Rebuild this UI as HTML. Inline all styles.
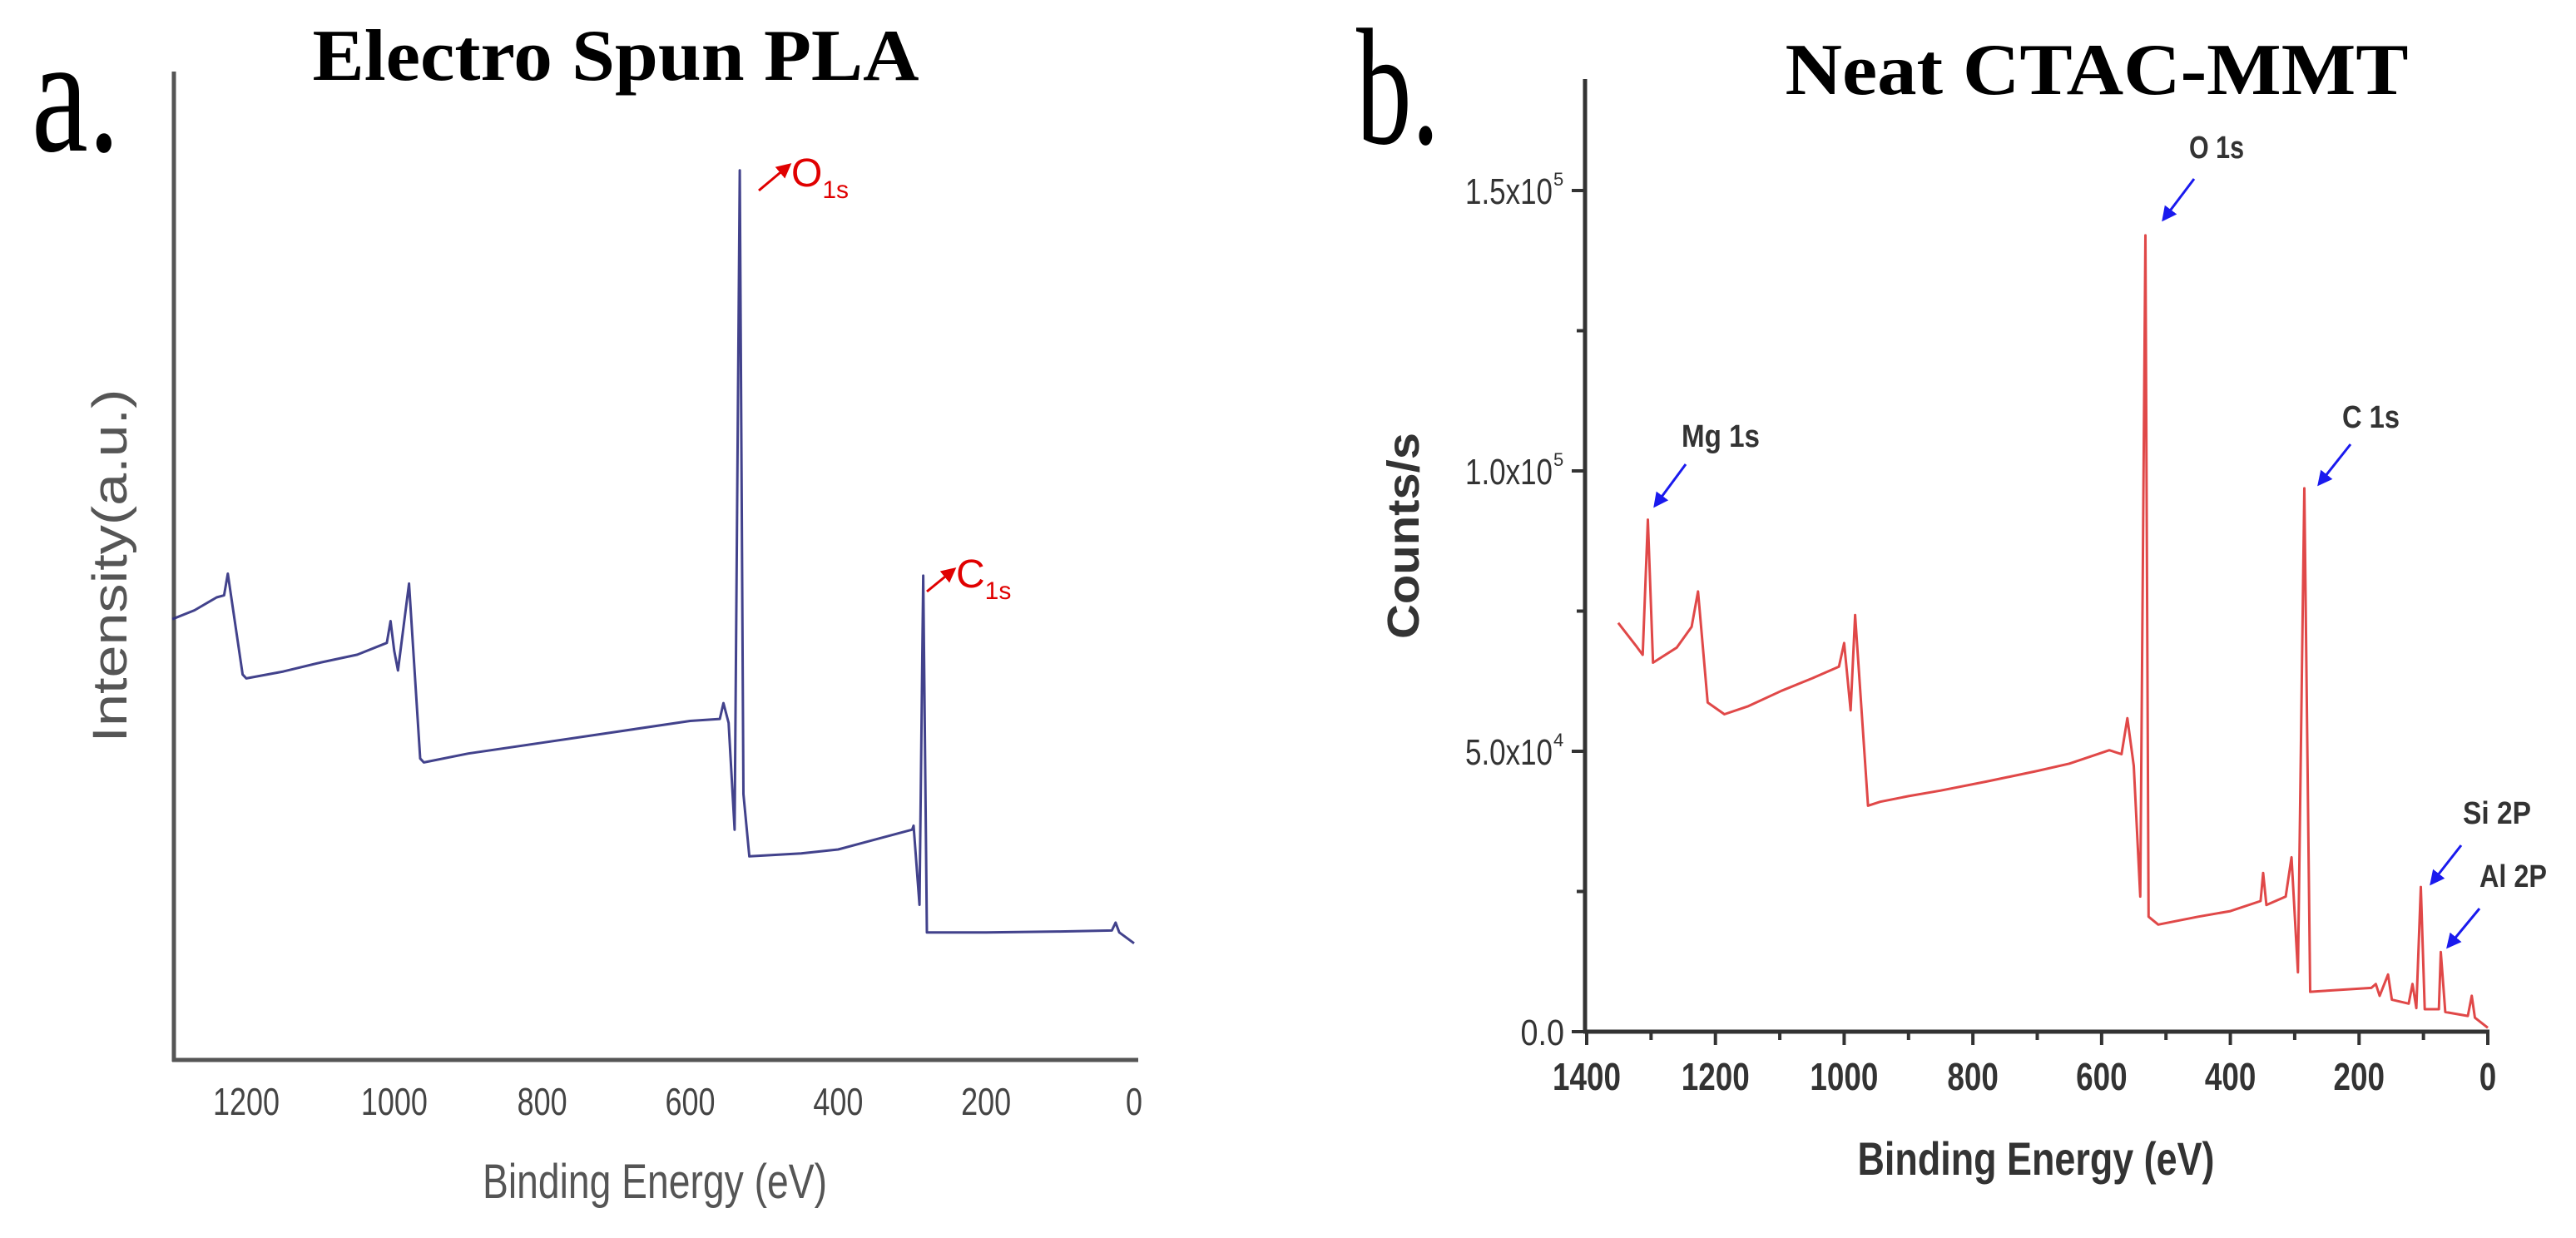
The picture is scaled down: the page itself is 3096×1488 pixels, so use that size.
<!DOCTYPE html>
<html><head><meta charset="utf-8"><style>
html,body{margin:0;padding:0;background:#fff;}
svg{display:block;}
</style></head><body>
<svg id="fig" width="3096" height="1488" viewBox="0 0 3096 1488" xmlns="http://www.w3.org/2000/svg">
<defs>
<marker id="arrR" markerWidth="6" markerHeight="6" refX="5" refY="3" orient="auto" markerUnits="strokeWidth"><path d="M0,0 L6,3 L0,6 z" fill="#e00000"/></marker>
<marker id="arrB" markerWidth="6" markerHeight="6" refX="5" refY="3" orient="auto" markerUnits="strokeWidth"><path d="M0,0 L6,3 L0,6 z" fill="#1a1aee"/></marker>
</defs>
<g id="panelA">
  <text x="38" y="181" font-family="Liberation Serif, serif" font-size="200" textLength="106" lengthAdjust="spacingAndGlyphs">a.</text>
  <text x="740" y="96" text-anchor="middle" font-family="Liberation Serif, serif" font-weight="bold" font-size="88" textLength="729" lengthAdjust="spacingAndGlyphs">Electro Spun PLA</text>
  <line x1="209" y1="86" x2="209" y2="1276" stroke="#555" stroke-width="5"/>
  <line x1="207" y1="1274" x2="1368" y2="1274" stroke="#555" stroke-width="5"/>
  <g id="aTicks"></g>
  <text x="787" y="1440" text-anchor="middle" font-family="Liberation Sans, sans-serif" font-size="58" fill="#555" textLength="414" lengthAdjust="spacingAndGlyphs">Binding Energy (eV)</text>
  <text transform="translate(152,680) rotate(-90)" text-anchor="middle" font-family="Liberation Sans, sans-serif" font-size="58" fill="#555" textLength="425" lengthAdjust="spacingAndGlyphs">Intensity(a.u.)</text>
  <path id="aLine" fill="none" stroke="#2e2e80" stroke-width="3" stroke-linejoin="round" opacity="0.9"/>
  <line x1="912" y1="229" x2="949" y2="198" stroke="#e00000" stroke-width="3" marker-end="url(#arrR)"/>
  <text x="951" y="224" font-family="Liberation Sans, sans-serif" font-size="48" fill="#e00000">O<tspan font-size="30" dy="14">1s</tspan></text>
  <line x1="1114" y1="711" x2="1147" y2="684" stroke="#e00000" stroke-width="3" marker-end="url(#arrR)"/>
  <text x="1149" y="706" font-family="Liberation Sans, sans-serif" font-size="48" fill="#e00000">C<tspan font-size="30" dy="14">1s</tspan></text>
</g>
<g id="panelB">
  <text x="1630" y="172" font-family="Liberation Serif, serif" font-size="200" textLength="100" lengthAdjust="spacingAndGlyphs">b.</text>
  <text x="2520" y="113" text-anchor="middle" font-family="Liberation Serif, serif" font-weight="bold" font-size="88" textLength="749" lengthAdjust="spacingAndGlyphs">Neat CTAC-MMT</text>
  <line x1="1905" y1="95" x2="1905" y2="1242" stroke="#333" stroke-width="5"/>
  <line x1="1903" y1="1240" x2="2992" y2="1240" stroke="#333" stroke-width="5"/>
  <g id="bTicks"></g>
  <text x="2447" y="1412" text-anchor="middle" font-family="Liberation Sans, sans-serif" font-weight="bold" font-size="56" fill="#333" textLength="429" lengthAdjust="spacingAndGlyphs">Binding Energy (eV)</text>
  <text transform="translate(1705,644) rotate(-90)" text-anchor="middle" font-family="Liberation Sans, sans-serif" font-weight="bold" font-size="54" fill="#333" textLength="248" lengthAdjust="spacingAndGlyphs">Counts/s</text>
  <path id="bLine" fill="none" stroke="#e04848" stroke-width="3" stroke-linejoin="round"/>
  <g font-family="Liberation Sans, sans-serif" font-weight="bold" font-size="38" fill="#333">
    <text x="2631" y="190" textLength="66" lengthAdjust="spacingAndGlyphs">O 1s</text>
    <text x="2021" y="537" textLength="94" lengthAdjust="spacingAndGlyphs">Mg 1s</text>
    <text x="2815" y="514" textLength="69" lengthAdjust="spacingAndGlyphs">C 1s</text>
    <text x="2960" y="990" textLength="82" lengthAdjust="spacingAndGlyphs">Si 2P</text>
    <text x="2980" y="1066" textLength="81" lengthAdjust="spacingAndGlyphs">Al 2P</text>
  </g>
  <g stroke="#1a1aee" stroke-width="3">
    <line x1="2637" y1="215" x2="2600" y2="264" marker-end="url(#arrB)"/>
    <line x1="2026" y1="558" x2="1989" y2="608" marker-end="url(#arrB)"/>
    <line x1="2825" y1="534" x2="2787" y2="582" marker-end="url(#arrB)"/>
    <line x1="2958" y1="1016" x2="2922" y2="1062" marker-end="url(#arrB)"/>
    <line x1="2980" y1="1092" x2="2942" y2="1138" marker-end="url(#arrB)"/>
  </g>
</g>
</svg>
<script>
// Panel a data (binding energy eV, intensity a.u.)
const aEnergy = [1300,1270,1240,1230,1225,1205,1200,1150,1100,1050,1010,1005,1000,995,980,965,960,900,800,700,600,560,555,548,540,533,528,520,450,400,350,300,298,290,285,280,200,100,30,25,20,0];
const aIntensity = [44.6,45.5,46.8,47.0,49.2,39.0,38.6,39.3,40.2,41.0,42.2,44.4,41.4,39.4,48.2,30.5,30.1,31.0,32.1,33.2,34.3,34.5,36.1,34.1,23.3,90.0,26.9,20.6,20.9,21.3,22.3,23.3,23.7,15.7,49.0,12.9,12.9,13.0,13.1,13.9,12.9,11.8];
const aTickLabels = ["1200","1000","800","600","400","200","0"];
const aTickValues = [1200,1000,800,600,400,200,0];
// Panel b data (binding energy eV, counts/s)
const bEnergy = [1351,1322,1313,1305,1297,1260,1237,1227,1212,1186,1150,1097,1050,1008,1000,990,983,963,944,900,850,779,700,650,588,569,560,550,540,532,527,512,450,400,353,349,344,314,305,295,285,276,250,181,174,168,155,149,123,117,111,104,98,76,73,66,31,25,20,0];
const bCounts = [72900,68600,67200,91300,65800,68500,72200,78500,58700,56600,58000,60800,63000,65100,69300,57300,74300,40300,41000,42000,43000,44600,46500,47800,50200,49500,55900,47400,24100,142000,20500,19100,20500,21500,23300,28300,22600,24100,31100,10600,96900,7100,7300,7800,8500,6400,10200,5700,5000,8500,4200,25800,4000,4000,14200,3500,2800,6400,2500,700];
const bXTickValues = [1400,1200,1000,800,600,400,200,0];
const bXTickLabels = ["1400","1200","1000","800","600","400","200","0"];
const bYTickValues = [0,50000,100000,150000];
const bYTickMant = ["0.0","5.0x10","1.0x10","1.5x10"];
const bYTickExp = ["","4","5","5"];

const NS = "http://www.w3.org/2000/svg";
// axis functions
const axA = e => 1363 - (e) * (1363 - 296) / 1200;
const ayA = v => 1274 - v * (1274 - 86) / 100;
const axB = e => 2990 - e * (2990 - 1907) / 1400;
const ayB = c => 1240 - c * (1240 - 229) / 150000;

function mk(tag, attrs, parent) {
  const el = document.createElementNS(NS, tag);
  for (const k in attrs) el.setAttribute(k, attrs[k]);
  parent.appendChild(el);
  return el;
}

document.getElementById('aLine').setAttribute('d', aEnergy.map((e, i) => (i ? 'L' : 'M') + axA(e).toFixed(1) + ',' + ayA(aIntensity[i]).toFixed(1)).join(' '));
document.getElementById('bLine').setAttribute('d', bEnergy.map((e, i) => (i ? 'L' : 'M') + axB(e).toFixed(1) + ',' + ayB(bCounts[i]).toFixed(1)).join(' '));

const aT = document.getElementById('aTicks');
aTickValues.forEach((v, i) => {
  const t = mk('text', {x: axA(v), y: 1340, 'text-anchor': 'middle', 'font-family': 'Liberation Sans, sans-serif', 'font-size': 46, fill: '#444', textLength: aTickLabels[i].length * 20, lengthAdjust: 'spacingAndGlyphs'}, aT);
  
  
  t.textContent = aTickLabels[i];
});

const bT = document.getElementById('bTicks');
for (let e = 0; e <= 1400; e += 100) {
  const major = e % 200 === 0;
  const l = mk('line', {x1: axB(e), y1: 1240, x2: axB(e), y2: major ? 1256 : 1250, stroke: '#333', 'stroke-width': 4}, bT);
  
  
}
for (let c = 0; c <= 150000; c += 25000) {
  const major = c % 50000 === 0;
  const l = mk('line', {x1: 1905, y1: ayB(c), x2: major ? 1889 : 1895, y2: ayB(c), stroke: '#333', 'stroke-width': 4}, bT);
  
  
}
bXTickValues.forEach((v, i) => {
  const t = mk('text', {x: axB(v), y: 1310, 'text-anchor': 'middle', 'font-family': 'Liberation Sans, sans-serif', 'font-weight': 'bold', 'font-size': 46, fill: '#333', textLength: bXTickLabels[i].length * 20.5, lengthAdjust: 'spacingAndGlyphs'}, bT);
  
  
  t.textContent = bXTickLabels[i];
});
bYTickValues.forEach((v, i) => {
  const y = ayB(v) + 16;
  const hasExp = bYTickExp[i] !== '';
  const t = mk('text', {x: hasExp ? 1866 : 1880, y: y, 'text-anchor': 'end', 'font-family': 'Liberation Sans, sans-serif', 'font-size': 44, fill: '#333', textLength: bYTickMant[i].length * 17.5, lengthAdjust: 'spacingAndGlyphs'}, bT);
  
  
  t.textContent = bYTickMant[i];
  if (hasExp) {
    const s = mk('text', {x: 1867, y: y - 22, 'font-family': 'Liberation Sans, sans-serif', 'font-size': 22, fill: '#333'}, bT);
    
    
    s.textContent = bYTickExp[i];
  }
});
</script>
</body></html>
